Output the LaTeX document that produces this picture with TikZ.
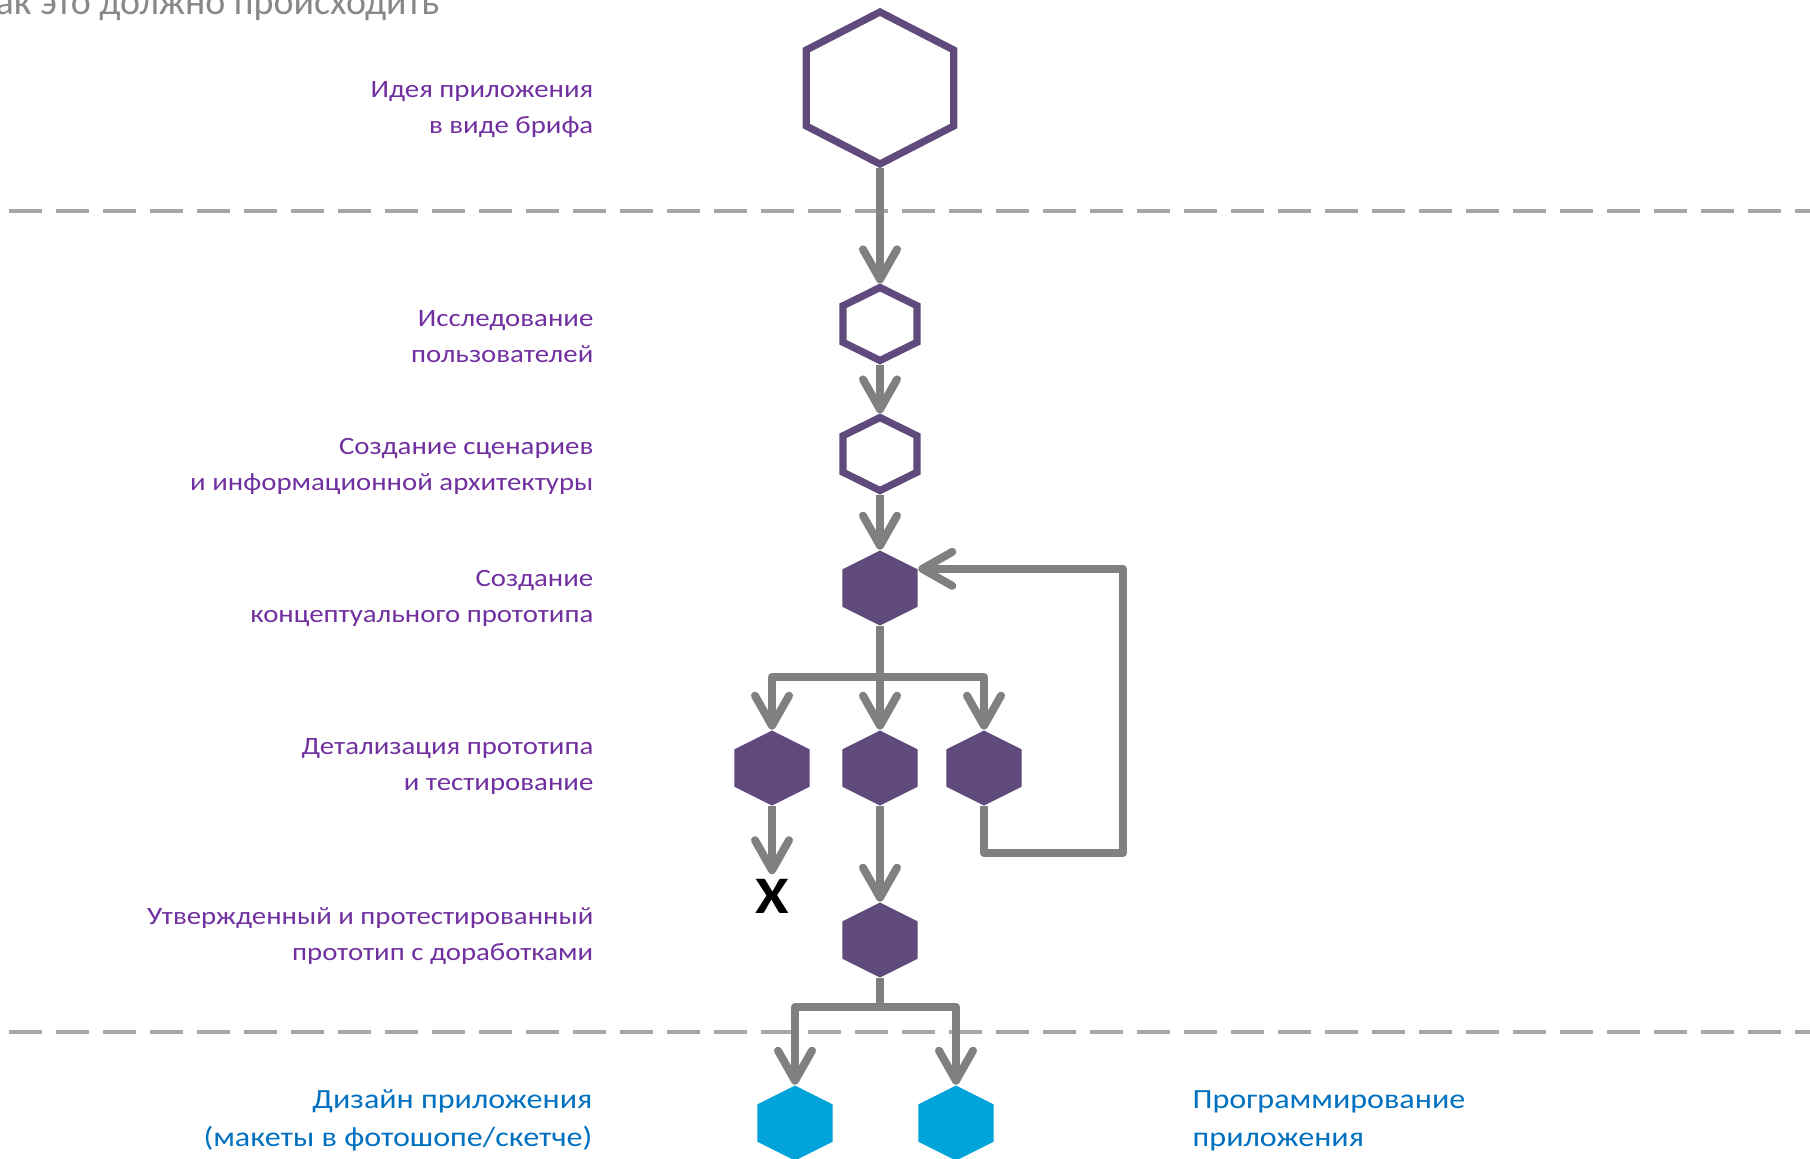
\documentclass[tikz,border=0pt]{standalone}
\usepackage{fontspec}
\setmainfont{Carlito}[FakeStretch=1.155]
\newfontfamily\titlefont{Carlito}
\usepackage{tikz}
\usetikzlibrary{shapes.geometric, arrows.meta, positioning}
\definecolor{hexpurple}{HTML}{604A7B}
\definecolor{txtpurple}{HTML}{7030A0}
\definecolor{txtblue}{HTML}{0070C0}
\definecolor{hexblue}{HTML}{00A3DA}
\definecolor{linegray}{HTML}{808080}
\definecolor{sepgray}{HTML}{A6A6A6}
\definecolor{titlegray}{HTML}{888888}
\tikzset{
    hex_base/.style={
        regular polygon, regular polygon sides=6, shape border rotate=90,
        inner sep=0pt, transform shape
    },
    hex_outline/.style={
        hex_base, draw=hexpurple, line width=0.72mm, fill=white
    },
    hex_filled/.style={
        hex_base, fill=hexpurple, minimum size=7.5mm, xscale=1.155
    },
    hex_blue/.style={
        hex_base, fill=hexblue, minimum size=7.5mm, xscale=1.155
    },
    flow_arrow/.style={
        draw=linegray, line width=0.8mm, line join=round,
        -{Straight Barb[length=3mm, width=3.4mm, round]}
    },
    sep_line/.style={
        draw=sepgray, line width=0.45mm, dash pattern=on 3.3mm off 1.4mm
    },
    stage_lbl/.style={
        font=\fontsize{7.1pt}{10pt}\selectfont, text=txtpurple,
        align=right, anchor=base east, inner sep=0pt
    },
    stage_lbl_blue/.style={
        stage_lbl, font=\fontsize{7.9pt}{10.8pt}\selectfont, text=txtblue
    },
    title_lbl/.style={
        font=\titlefont\fontsize{10.8pt}{12pt}\selectfont, text=titlegray,
        anchor=base east, inner sep=0pt
    },
    stop_lbl/.style={
        font=\fontsize{15pt}{15pt}\selectfont\bfseries, text=black, inner sep=0.4mm
    }
}

\begin{document}
\begin{tikzpicture}[x=0.1mm, y=-0.1mm]

    \useasboundingbox (0,0) rectangle (1810,1159);

    \node[title_lbl] (title) at (440,14) {Как это должно происходить};

    \draw[sep_line] (9,211) -- (1810,211);
    \draw[sep_line] (9,1032) -- (1810,1032);

    \node[hex_outline, minimum size=15.2mm, xscale=1.12] (idea) at (880,88) {};
    \node[hex_outline, minimum size=7.3mm, xscale=1.17] (research) at (880,324) {};
    \node[hex_outline, minimum size=7.3mm, xscale=1.17] (scenario) at (880,454) {};
    \node[hex_filled] (concept) at (880,588) {};
    \node[hex_filled] (det_left) at (772,768) {};
    \node[hex_filled] (det_mid) at (880,768) {};
    \node[hex_filled] (det_right) at (984,768) {};
    \node[stop_lbl] (stop) at (772,896) {X};
    \node[hex_filled] (approved) at (880,940) {};
    \node[hex_blue] (design) at (795,1123) {};
    \node[hex_blue] (develop) at (956,1123) {};

    \node[stage_lbl] (lbl_idea) at (594,133) {Идея приложения\\в виде брифа};
    \node[stage_lbl] (lbl_research) at (594,362) {Исследование\\пользователей};
    \node[stage_lbl] (lbl_scenario) at (594,490) {Создание сценариев\\и информационной архитектуры};
    \node[stage_lbl] (lbl_concept) at (594,622) {Создание\\концептуального прототипа};
    \node[stage_lbl] (lbl_detail) at (594,790) {Детализация прототипа\\и тестирование};
    \node[stage_lbl] (lbl_approved) at (594,960) {Утвержденный и протестированный\\прототип с доработками};
    \node[stage_lbl_blue] (lbl_design) at (593,1146) {Дизайн приложения\\(макеты в фотошопе/скетче)};
    \node[stage_lbl_blue, anchor=base west, align=left] (lbl_develop) at (1192,1146) {Программирование\\приложения};

    \coordinate (fork_a) at (880,677);
    \coordinate (loop_corner) at (1123,853);
    \coordinate (fork_b) at (880,1007);

    \draw[flow_arrow] (idea) -- (research);
    \draw[flow_arrow] (research) -- (scenario);
    \draw[flow_arrow] (scenario) -- (concept);
    \draw[flow_arrow] (concept.south) -- (fork_a) -| (det_left.north);
    \draw[flow_arrow] (fork_a) -- (det_mid.north);
    \draw[flow_arrow] (fork_a) -| (det_right.north);
    \draw[flow_arrow] (det_right.south) |- (loop_corner) |- (concept.30);
    \draw[flow_arrow] (det_left.south) -- (stop.north);
    \draw[flow_arrow] (det_mid.south) -- (approved.north);
    \draw[flow_arrow] (approved.south) -- (fork_b) -| (design.north);
    \draw[flow_arrow] (fork_b) -| (develop.north);

\end{tikzpicture}
\end{document}
